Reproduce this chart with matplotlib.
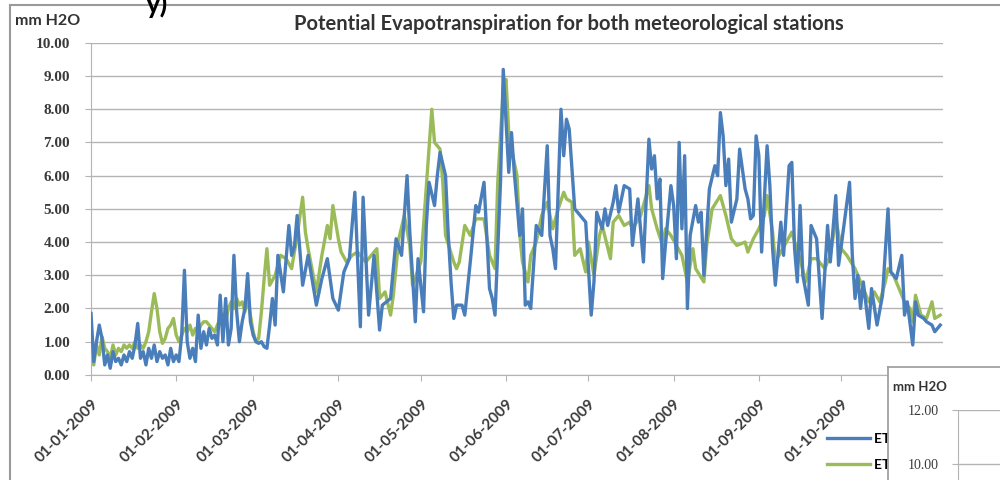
import numpy as np
import pandas as pd
import matplotlib
matplotlib.use('Agg')
import matplotlib.pyplot as plt
import matplotlib.dates as mdates
from matplotlib.patches import Rectangle

# daily potential evapotranspiration (mm H2O)
# day = days after 01-01-2009
st1_days = [0, 1, 2, 3, 4, 5, 6, 7, 8, 9, 10, 11, 12, 13, 14, 15, 16, 17, 18, 19,
            20, 21, 22, 23, 24, 25, 26, 27, 28, 29, 30, 31, 32, 33, 34, 35, 36, 37, 38, 39,
            40, 41, 42, 43, 44, 45, 46, 47, 48, 49, 50, 51, 52, 53, 54, 55, 56, 57, 58, 59,
            60, 61, 62, 63, 64, 65, 66, 67, 68, 70, 72, 73, 74, 75, 77, 79, 82, 84, 86, 88,
            90, 92, 94, 96, 98, 99, 101, 103, 105, 106, 109, 111, 113, 115, 116, 118, 119, 121, 122, 123,
            125, 126, 127, 129, 130, 131, 132, 133, 135, 136, 138, 140, 141, 143, 144, 145, 146, 147, 149, 150,
            152, 153, 154, 156, 157, 158, 159, 160, 162, 164, 166, 167, 168, 169, 171, 172, 173, 174, 176, 177,
            179, 180, 182, 183, 184, 186, 187, 188, 190, 191, 192, 194, 196, 197, 199, 201, 203, 204, 205, 206,
            207, 208, 209, 211, 212, 213, 214, 215, 216, 217, 218, 220, 221, 222, 223, 225, 227, 228, 229, 230,
            231, 232, 233, 235, 236, 238, 239, 240, 241, 242, 243, 244, 245, 246, 247, 248, 249, 251, 252, 254,
            255, 256, 257, 258, 259, 261, 262, 264, 266, 268, 269, 271, 272, 273, 276, 277, 278, 279, 280, 281,
            283, 284, 286, 288, 290, 291, 293, 295, 296, 297, 299, 300, 301, 303, 304, 306, 307, 309]
st1_et = [1.85, 0.4, 1.0, 1.5, 1.1, 0.3, 0.6, 0.2, 0.7, 0.4, 0.5, 0.3, 0.6, 0.4, 0.7, 0.5, 0.9, 1.55, 0.5, 0.7,
          0.3, 0.8, 0.5, 0.9, 0.4, 0.7, 0.5, 0.6, 0.3, 0.8, 0.4, 0.6, 0.4, 1.2, 3.15, 1.0, 0.5, 0.8, 0.4, 1.8,
          0.8, 1.3, 0.9, 1.4, 1.1, 1.2, 0.9, 2.4, 1.0, 2.3, 0.9, 1.4, 3.6, 1.9, 1.0, 1.6, 2.0, 3.05, 1.6, 1.2,
          1.0, 0.95, 1.0, 0.85, 0.8, 1.5, 2.3, 1.5, 3.6, 2.5, 4.5, 3.6, 3.85, 4.8, 2.7, 3.6, 2.1, 2.9, 3.5, 2.3,
          1.95, 3.1, 3.5, 5.5, 1.45, 5.35, 1.8, 3.6, 1.35, 2.1, 2.3, 4.1, 3.6, 6.0, 4.3, 1.6, 3.5, 1.9, 4.5, 5.8,
          5.1, 6.0, 6.7, 6.0, 4.2, 2.8, 1.7, 2.1, 2.1, 1.8, 3.4, 5.1, 4.9, 5.8, 4.2, 2.6, 2.3, 1.8, 5.8, 9.2,
          6.1, 7.3, 6.1, 4.2, 5.0, 2.1, 2.2, 2.0, 4.5, 4.2, 6.9, 4.2, 3.8, 3.2, 8.0, 6.6, 7.7, 7.4, 5.0, 4.9,
          4.7, 4.6, 1.8, 2.8, 4.9, 4.4, 5.0, 4.5, 5.2, 5.7, 4.9, 5.7, 5.6, 3.9, 5.3, 3.4, 7.1, 6.2, 6.6, 5.3,
          5.9, 2.9, 3.9, 5.7, 5.1, 3.5, 7.0, 4.4, 6.6, 2.0, 4.2, 5.1, 4.6, 4.9, 3.0, 5.6, 6.3, 6.0, 7.9, 7.2,
          5.7, 6.5, 4.6, 5.3, 6.8, 5.6, 5.3, 4.7, 4.8, 7.2, 6.6, 3.7, 5.3, 6.9, 5.7, 3.8, 2.7, 4.6, 3.6, 6.3,
          6.4, 3.8, 2.8, 5.1, 3.0, 2.1, 4.5, 4.1, 1.7, 4.5, 3.4, 5.4, 3.3, 3.9, 5.8, 3.6, 2.3, 3.0, 2.0, 2.8,
          1.4, 2.6, 1.5, 2.4, 5.0, 3.1, 2.9, 3.6, 1.8, 2.2, 0.9, 2.2, 1.8, 1.7, 1.6, 1.5, 1.3, 1.5]

st2_days = [0, 1, 2, 3, 4, 5, 6, 7, 8, 9, 10, 11, 12, 13, 14, 15, 16, 17, 18, 19,
            20, 21, 22, 23, 24, 25, 26, 27, 28, 29, 30, 31, 32, 33, 34, 35, 36, 37, 38, 39,
            40, 41, 42, 43, 44, 45, 46, 47, 48, 49, 50, 51, 52, 53, 54, 55, 56, 57, 58, 59,
            60, 61, 62, 63, 64, 65, 67, 69, 71, 73, 75, 77, 78, 79, 82, 84, 86, 87, 88, 90,
            91, 93, 95, 97, 100, 104, 105, 107, 109, 110, 112, 114, 116, 117, 120, 121, 124, 125, 127, 128,
            129, 132, 133, 134, 136, 138, 140, 143, 145, 147, 148, 150, 151, 152, 153, 155, 156, 157, 159, 160,
            162, 164, 166, 168, 170, 172, 173, 175, 176, 178, 180, 181, 183, 185, 186, 189, 190, 192, 194, 196,
            197, 200, 203, 204, 206, 208, 209, 211, 213, 215, 217, 219, 220, 223, 224, 226, 229, 231, 233, 235,
            238, 239, 241, 243, 245, 246, 248, 249, 251, 253, 255, 256, 258, 260, 262, 264, 267, 269, 271, 273,
            275, 278, 280, 283, 285, 287, 289, 290, 292, 294, 296, 298, 299, 300, 302, 304, 306, 307, 309]
st2_et = [0.4, 0.3, 0.9, 0.6, 1.15, 0.8, 0.7, 0.5, 0.9, 0.6, 0.8, 0.7, 0.9, 0.8, 0.9, 0.8, 1.0, 0.8, 0.9, 0.8,
          1.0, 1.3, 1.9, 2.45, 2.0, 1.3, 0.95, 1.1, 1.4, 1.5, 1.7, 1.2, 1.0, 1.2, 1.4, 1.3, 1.5, 1.2, 1.4, 1.3,
          1.5, 1.6, 1.6, 1.5, 1.4, 1.3, 1.5, 1.7, 1.8, 1.6, 2.0, 2.2, 2.0, 2.3, 2.1, 2.2, 1.9, 2.3, 1.8, 1.3,
          1.0, 1.1, 1.9, 2.9, 3.8, 2.7, 3.0, 3.6, 3.5, 3.2, 4.2, 5.35, 4.3, 3.8, 2.5, 3.6, 4.5, 4.1, 5.1, 4.1,
          3.7, 3.4, 3.6, 3.7, 3.4, 3.8, 2.3, 2.5, 1.8, 2.4, 4.1, 4.8, 3.9, 2.7, 3.4, 4.5, 8.0, 7.0, 6.8, 5.8,
          4.2, 3.4, 3.2, 3.4, 4.5, 4.2, 4.7, 4.7, 3.6, 3.2, 5.8, 8.6, 8.9, 7.3, 6.8, 6.0, 4.2, 3.4, 2.8, 3.6,
          4.0, 4.8, 5.2, 4.4, 5.0, 5.5, 5.3, 5.2, 3.6, 3.8, 3.1, 4.0, 3.0, 4.2, 4.5, 3.5, 4.6, 4.8, 4.5, 4.6,
          4.4, 4.8, 5.7, 5.0, 4.4, 3.9, 4.4, 4.2, 3.9, 3.6, 2.8, 3.8, 3.2, 2.8, 3.9, 5.0, 5.4, 4.8, 4.1, 3.9,
          4.0, 3.7, 4.1, 4.4, 4.8, 5.4, 4.3, 3.4, 3.7, 4.0, 4.3, 4.0, 3.5, 2.8, 3.5, 3.5, 3.2, 3.6, 4.7, 3.8,
          3.6, 3.2, 2.8, 2.2, 2.5, 2.2, 2.8, 3.2, 3.0, 2.6, 2.2, 2.0, 1.6, 2.4, 1.8, 1.7, 2.2, 1.7, 1.8]

start = pd.Timestamp('2009-01-01')
month_ticks = pd.date_range('2009-01-01', '2009-10-01', freq='MS')
y_ticks = np.arange(0, 11, 1)
y2_ticks = [10, 12]

title = 'Potential Evapotranspiration for both meteorological stations'
unit = 'mm H2O'
labels = ['ET0 station 1', 'ET0 station 2']

blue = '#4a7ebb'
green = '#9bbb59'
grid_c = '#b4b4b4'
txt_c = '#3a3a3a'

st1_x = start + pd.to_timedelta(st1_days, unit='D')
st2_x = start + pd.to_timedelta(st2_days, unit='D')

fig = plt.figure(figsize=(10, 4.8), dpi=100)
fig.patch.set_facecolor('white')

# chart frame
fig.patches.append(Rectangle((0.010, -0.05), 1.2, 1.04, transform=fig.transFigure,
                             fill=False, edgecolor='#9a9a9a', lw=1.5))

ax = fig.add_axes([0.091, 0.219, 0.852, 0.6917])
ax.plot(st1_x, st1_et, color=blue, lw=2.4, label=labels[0], zorder=3)
ax.plot(st2_x, st2_et, color=green, lw=2.4, label=labels[1], zorder=2)

ax.set_xlim(start, start + pd.Timedelta(days=310))
ax.set_ylim(0, 10)
ax.set_yticks(y_ticks)
ax.yaxis.set_major_formatter(matplotlib.ticker.FormatStrFormatter('%.2f'))
ax.set_xticks(month_ticks)
ax.xaxis.set_major_formatter(mdates.DateFormatter('%d-%m-%Y'))
ax.grid(axis='y', color=grid_c, lw=1.0)
ax.set_axisbelow(True)
for s in ['top', 'right']:
    ax.spines[s].set_visible(False)
for s in ['left', 'bottom']:
    ax.spines[s].set_color(grid_c)
ax.tick_params(axis='y', length=4, color=grid_c, pad=11, labelsize=11, labelcolor=txt_c)
ax.tick_params(axis='x', length=4, color=grid_c, pad=12, labelsize=11, labelcolor=txt_c)
for t in ax.get_yticklabels():
    t.set_fontfamily('Liberation Serif')
    t.set_fontweight('bold')
for t in ax.get_xticklabels():
    t.set_rotation(45)
    t.set_ha('right')
    t.set_va('top')
    t.set_rotation_mode('anchor')
    t.set_fontfamily('Lato')
    t.set_fontweight('bold')

ax.legend(loc='upper left', bbox_to_anchor=(0.827, 0.098), bbox_transform=fig.transFigure,
          frameon=False, borderpad=0, borderaxespad=0, handlelength=3.1, labelspacing=1.0,
          handletextpad=0.3, prop={'family': 'Lato', 'weight': 'bold', 'size': 10})

fig.text(0.569, 0.95, title, ha='center', va='center', fontsize=14.5,
         fontfamily='Lato', fontweight='bold', color='#333333')
fig.text(0.015, 0.957, unit, ha='left', va='center', fontsize=11.5,
         fontfamily='Lato', fontweight='bold', color='#333333')

# top of the next chart overlapping the corner
box = fig.add_axes([0.888, -0.01, 0.2, 0.245])
box.set_xticks([])
box.set_yticks([])
box.set_facecolor('white')
for s in box.spines.values():
    s.set_color('#9a9a9a')
    s.set_linewidth(1.2)
box.text(0.025, 0.83, unit, transform=box.transAxes, fontsize=9.5, fontfamily='Lato',
         fontweight='bold', color='#333333', va='center')

ax2 = fig.add_axes([0.958, -0.05, 0.2, 0.195])
ax2.set_ylim(8.52, 12)
ax2.set_yticks(y2_ticks)
ax2.yaxis.set_major_formatter(matplotlib.ticker.FormatStrFormatter('%.2f'))
ax2.set_xticks([])
ax2.grid(axis='y', color=grid_c, lw=1.0)
for s in ['top', 'right', 'bottom']:
    ax2.spines[s].set_visible(False)
ax2.spines['left'].set_color(grid_c)
ax2.tick_params(axis='y', length=4, color=grid_c, pad=10, labelsize=10, labelcolor=txt_c)
for t in ax2.get_yticklabels():
    t.set_fontfamily('Liberation Serif')

# fragment of text above the frame
fig.text(0.146, 0.992, 'y)', ha='left', va='center', fontsize=20, fontweight='bold',
         color='black', fontfamily='Lato')

fig.savefig('out.png', dpi=100)
